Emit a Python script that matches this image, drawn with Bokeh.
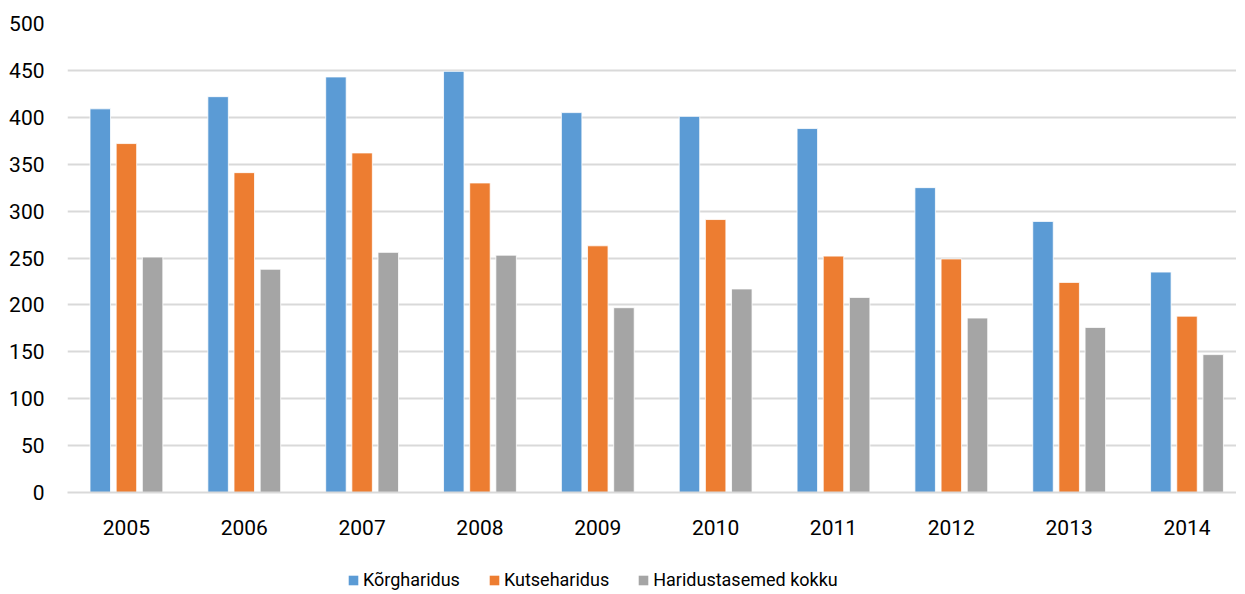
from bokeh.plotting import figure
from bokeh.layouts import column
from bokeh.models import Range1d, FixedTicker, Legend, LegendItem, ColumnDataSource
from bokeh.transform import dodge
from bokeh.embed import file_html
from bokeh.resources import INLINE

years = ["2005", "2006", "2007", "2008", "2009", "2010", "2011", "2012", "2013", "2014"]
korgharidus = [409, 422, 443, 449, 405, 401, 388, 325, 289, 235]
kutseharidus = [372, 341, 362, 330, 263, 291, 252, 249, 224, 188]
kokku = [251, 238, 256, 253, 197, 217, 208, 186, 176, 147]
series_names = ["Kõrgharidus", "Kutseharidus", "Haridustasemed kokku"]
colors = ["#5B9BD5", "#ED7D31", "#A5A5A5"]
y_ticks = [0, 50, 100, 150, 200, 250, 300, 350, 400, 450, 500]

FONT = "Roboto"
pos = list(range(len(years)))
src = ColumnDataSource(dict(x=pos, a=korgharidus, b=kutseharidus, c=kokku))
keys = ["a", "b", "c"]
offsets = [-0.222, 0.0, 0.222]

p = figure(frame_width=1169, frame_height=469, output_backend="svg", toolbar_location=None,
           x_range=Range1d(-0.5, 9.42), y_range=Range1d(0, 500),
           min_border_left=67, min_border_top=23, min_border_right=0, min_border_bottom=52)
p.outline_line_color = None

for key, off, col in zip(keys, offsets, colors):
    p.vbar(x=dodge("x", off, range=p.x_range), top=key, width=0.174, bottom=0,
           source=src, fill_color=col, line_color="white", line_width=0.8)

# axes
p.yaxis.ticker = FixedTicker(ticks=y_ticks)
p.yaxis.axis_line_color = None
p.yaxis.major_tick_line_color = None
p.yaxis.minor_tick_line_color = None
p.yaxis.major_tick_out = 0
p.yaxis.major_tick_in = 0
p.yaxis.major_label_standoff = 23
p.yaxis.major_label_text_font = FONT
p.yaxis.major_label_text_font_size = "21px"
p.yaxis.major_label_text_color = "#000000"

p.xaxis.ticker = FixedTicker(ticks=pos)
p.xaxis.major_label_overrides = {i: y for i, y in enumerate(years)}
p.xaxis.axis_line_color = "#D9D9D9"
p.xaxis.axis_line_width = 2
p.xaxis.major_tick_line_color = None
p.xaxis.minor_tick_line_color = None
p.xaxis.major_tick_out = 0
p.xaxis.major_tick_in = 0
p.xaxis.major_label_standoff = 27
p.xaxis.major_label_text_font = FONT
p.xaxis.major_label_text_font_size = "21px"
p.xaxis.major_label_text_color = "#000000"

p.xgrid.grid_line_color = None
p.ygrid.ticker = FixedTicker(ticks=y_ticks)
p.ygrid.grid_line_color = "#D9D9D9"
p.ygrid.grid_line_width = 2

# legend strip below the chart
lg = figure(frame_width=1236, frame_height=48, output_backend="svg", toolbar_location=None,
            x_axis_type=None, y_axis_type=None, x_range=Range1d(0, 1), y_range=Range1d(0, 1),
            min_border_left=0, min_border_right=0, min_border_top=0, min_border_bottom=0)
lg.outline_line_color = None
lg.xgrid.grid_line_color = None
lg.ygrid.grid_line_color = None
proxies = []
for key, col in zip(keys, colors):
    r = lg.vbar(x="x", top=key, width=0.1, source=src, fill_color=col, line_color=None)
    r.visible = False
    proxies.append(r)

legend = Legend(items=[LegendItem(label=n, renderers=[r]) for n, r in zip(series_names, proxies)],
                orientation="horizontal", location=(347, 2),
                label_text_font=FONT, label_text_font_size="18px", label_text_color="#000000",
                glyph_width=12, glyph_height=12, spacing=28, label_standoff=4,
                label_height=20, padding=0, margin=0, border_line_color=None, background_fill_alpha=0)
lg.add_layout(legend, "center")

layout = column(p, lg, spacing=0)
open("out.html", "w").write(file_html(layout, INLINE))
